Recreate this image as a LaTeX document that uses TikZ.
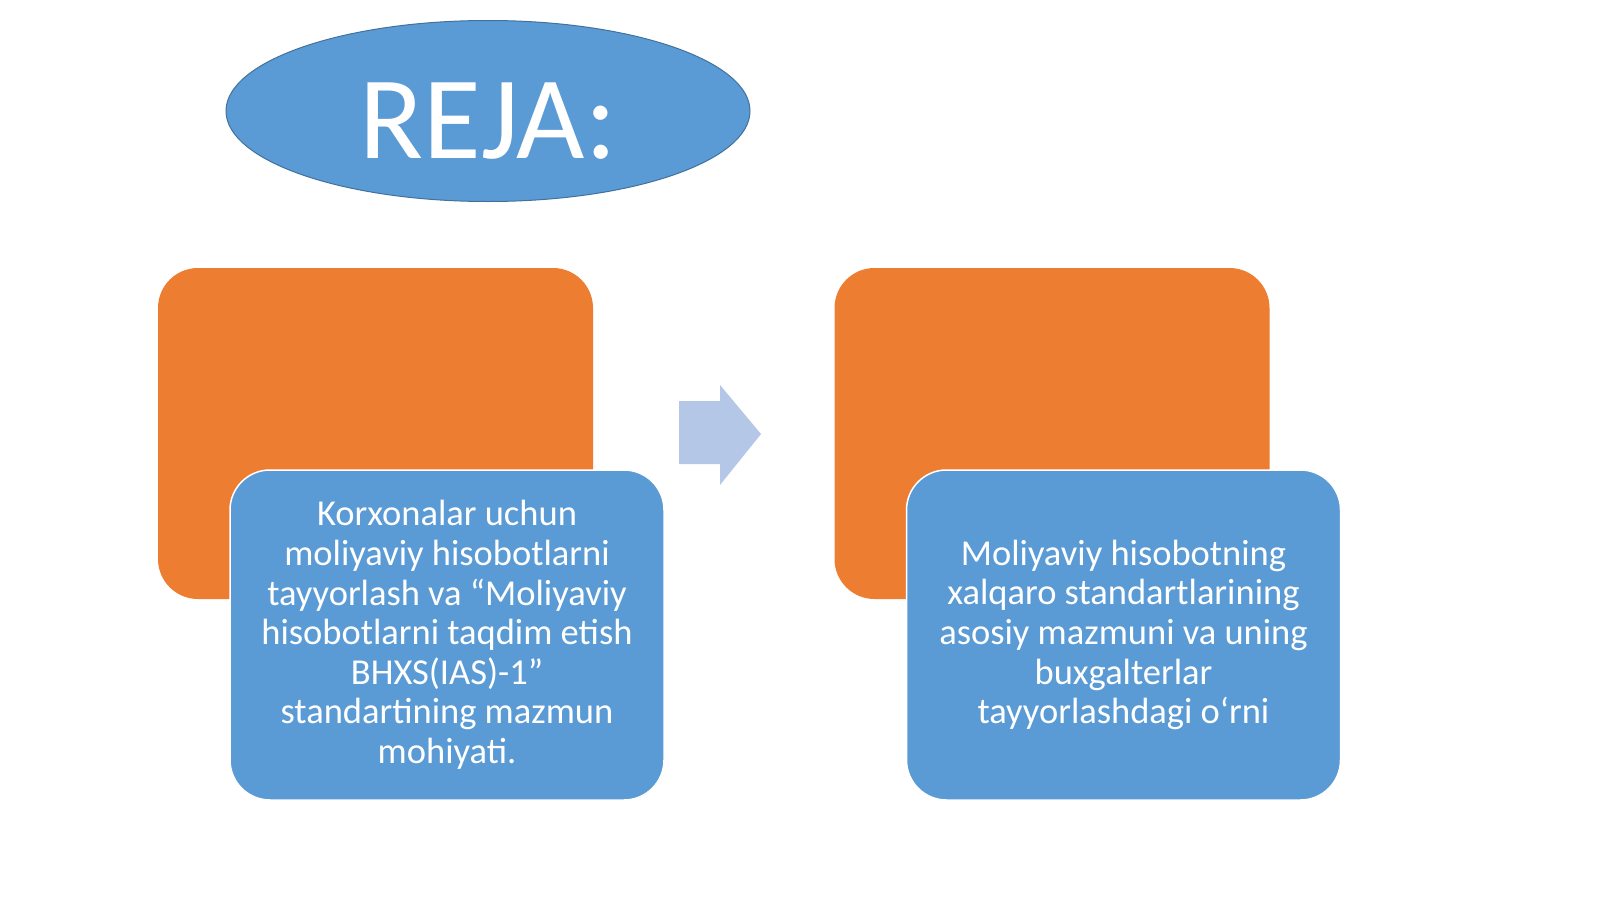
\documentclass[tikz,border=0pt]{standalone}
\usepackage{fontspec}
\setmainfont{Carlito}
\usetikzlibrary{shapes.geometric}
\definecolor{orng}{HTML}{ED7D31}
\definecolor{blu}{HTML}{5B9BD5}
\definecolor{bluedge}{HTML}{41719C}
\definecolor{arrowblu}{HTML}{B4C7E7}
\tikzset{
  backbox/.style={fill=orng, draw=none, rounded corners=40pt, minimum width=435pt, minimum height=331pt, inner sep=0pt},
  frontbox/.style={fill=blu, draw=white, line width=1.5pt, rounded corners=40pt, minimum width=434pt, minimum height=330pt, inner sep=0pt, text=white, align=center, font=\fontsize{36.5}{39.6}\selectfont},
}
\begin{document}
\begin{tikzpicture}[x=1pt,y=-1pt]
\useasboundingbox[fill=white] (0,0) rectangle (1600,899);
% title ellipse
\node[ellipse, fill=blu, draw=bluedge, line width=1pt, minimum width=524pt, minimum height=181pt, inner sep=0pt] (reja) at (488,111) {};
\node[anchor=base, text=white, font=\fontsize{118}{118}\selectfont, inner sep=0pt] (rejatext) at (488,158) {REJA:};
% back boxes
\node[backbox] (o1) at (375.5,433.5) {};
\node[backbox] (o2) at (1052,433.5) {};
% front boxes
\node[frontbox] (b1) at (447,635) {Korxonalar uchun\\ moliyaviy hisobotlarni\\ tayyorlash va “Moliyaviy\\ hisobotlarni taqdim etish\\ BHXS(IAS)-1”\\ standartining mazmun\\ mohiyati.};
\node[frontbox] (b2) at (1123.5,635) {Moliyaviy hisobotning\\ xalqaro standartlarining\\ asosiy mazmuni va uning\\ buxgalterlar\\ tayyorlashdagi o‘rni};
% arrow
\fill[arrowblu] (679,401) -- (720,401) -- (720,385) -- (761,434) -- (720,485) -- (720,464) -- (679,464) -- cycle;
\end{tikzpicture}
\end{document}
